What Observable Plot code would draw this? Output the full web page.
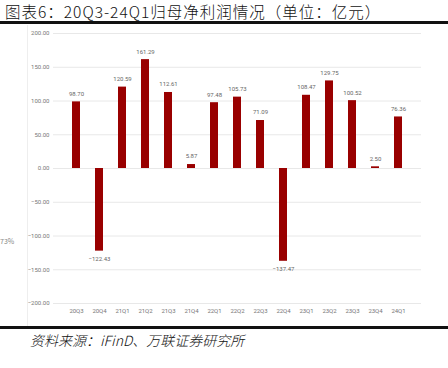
<!DOCTYPE html>
<html><head><meta charset="utf-8">
<script src="https://cdn.jsdelivr.net/npm/d3@7"></script>
<script src="https://cdn.jsdelivr.net/npm/@observablehq/plot@0.6"></script>
<style>
body{margin:0;width:448px;height:368px;background:#fff;position:relative;overflow:hidden;font-family:"Noto Sans CJK SC",sans-serif}
#title{position:absolute;left:5px;top:3px;line-height:17px;font-size:15.5px;color:#111;letter-spacing:1px;white-space:nowrap;font-weight:300}
.rule{position:absolute;left:0;width:448px;height:3px;background:#111}
#caption{position:absolute;left:30px;top:330px;line-height:20px;font-size:14px;font-style:italic;color:#111;white-space:nowrap;font-weight:300}
#chart{position:absolute;left:0;top:24px}
#vline{position:absolute;left:27px;top:25px;width:1px;height:302px;background:#eee}
#side{position:absolute;left:0;top:236px;font-size:7px;color:#888}
</style></head><body>
<div id="title">图表6：20Q3-24Q1归母净利润情况（单位：亿元）</div>
<div class="rule" style="top:21px"></div>
<div id="vline"></div>
<div id="side">73%</div>
<div id="chart"></div>
<div class="rule" style="top:326px"></div>
<div id="caption">资料来源：iFinD、万联证券研究所</div>
<script>
const quarters = ["20Q3","20Q4","21Q1","21Q2","21Q3","21Q4","22Q1","22Q2","22Q3","22Q4","23Q1","23Q2","23Q3","23Q4","24Q1"];
const profits = [98.70,-122.43,120.59,161.29,112.61,5.87,97.48,105.73,71.09,-137.47,108.47,129.75,100.52,2.50,76.36];
const yTicks = [-200,-150,-100,-50,0,50,100,150,200];

const data = quarters.map((q,i)=>({q, v: profits[i]}));
const fmt = d3.format(".2f");

const chart = Plot.plot({
  width: 448,
  height: 302,
  marginLeft: 53,
  marginRight: 27,
  marginTop: 9,
  marginBottom: 23,
  style: {fontFamily: "Roboto, sans-serif", fontSize: "6px", color: "#666", background: "transparent"},
  x: {domain: quarters, padding: 0.66, label: null},
  y: {domain: [-200, 200], label: null},
  marks: [
    Plot.ruleY(yTicks, {stroke: "#e8e8e8", strokeWidth: 1}),
    Plot.barY(data, {x: "q", y: "v", fill: "#990000"}),
    Plot.text(data.filter(d => d.v >= 0), {x: "q", y: "v", text: d => fmt(d.v), dy: -8, fill: "#666", fontSize: 6}),
    Plot.text(data.filter(d => d.v < 0), {x: "q", y: "v", text: d => fmt(d.v), dy: 8, fill: "#666", fontSize: 6}),
    Plot.axisX({tickSize: 0, tickPadding: 5, fontSize: 6, fill: "#777"}),
    Plot.axisY({ticks: yTicks, tickFormat: fmt, tickSize: 0, tickPadding: 4, fontSize: 6, fill: "#777"})
  ]
});
document.getElementById("chart").appendChild(chart);
</script>
</body></html>
